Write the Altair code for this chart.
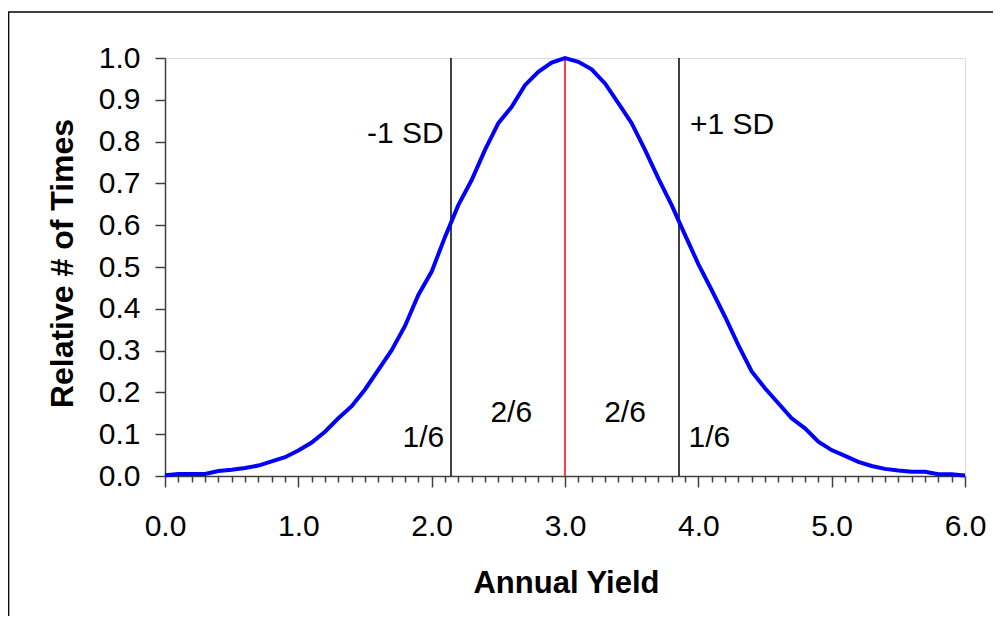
import altair as alt
import pandas as pd

# ---- data ----
yield_x = [round(i / 10, 1) for i in range(61)]
rel_times = [
    0.002, 0.005, 0.005, 0.005, 0.012, 0.015, 0.019, 0.025, 0.035, 0.045,
    0.061, 0.080, 0.106, 0.138, 0.167, 0.207, 0.254, 0.301, 0.359, 0.433,
    0.489, 0.572, 0.648, 0.708, 0.780, 0.844, 0.883, 0.935, 0.967, 0.989,
    1.000, 0.991, 0.973, 0.939, 0.892, 0.844, 0.780, 0.712, 0.648, 0.577,
    0.507, 0.445, 0.381, 0.313, 0.250, 0.210, 0.174, 0.138, 0.114, 0.082,
    0.062, 0.048, 0.034, 0.024, 0.017, 0.013, 0.010, 0.010, 0.004, 0.004,
    0.001,
]
sd_x = [2.145, 3.855]
mean_x = [3.0]

ann_text = ["-1 SD", "1/6", "2/6", "2/6", "+1 SD", "1/6"]
ann_x = [2.09, 2.094, 2.597, 3.45, 3.9375, 3.927]
ann_y = [0.797, 0.069, 0.130, 0.130, 0.818, 0.069]
ann_align = ["right", "right", "center", "center", "left", "left"]

x_ticks = [round(i / 10, 1) for i in range(61)]
y_ticks = [round(i / 10, 1) for i in range(11)]

curve_df = pd.DataFrame({"x": yield_x, "y": rel_times})
sd_df = pd.DataFrame({"x": sd_x})
mean_df = pd.DataFrame({"x": mean_x})
ann_df = pd.DataFrame({"text": ann_text, "x": ann_x, "y": ann_y, "align": ann_align})

FONT = "Liberation Sans"
W, H = 800, 418

major_test = "abs(datum.value - round(datum.value)) < 0.001"

x_scale = alt.Scale(domain=[0, 6], nice=False, zero=False)
y_scale = alt.Scale(domain=[0, 1], nice=False)

x_axis = alt.Axis(
    values=x_ticks,
    labelExpr=f"{major_test} ? format(datum.value, '.1f') : ''",
    labelOverlap=False,
    labelFlush=False,
    labelBound=False,
    labelFontSize=30,
    labelFont=FONT,
    labelColor="black",
    labelBaseline="alphabetic",
    labelPadding=48,
    tickSize={"condition": {"test": major_test, "value": 11}, "value": 6},
    tickColor="#404040",
    tickWidth=1.5,
    domainColor="#404040",
    domainWidth=1.5,
    grid=False,
    title="Annual Yield",
    titleFont=FONT,
    titleFontSize=31,
    titleFontWeight="bold",
    titleColor="black",
    titleX=401,
    titleY=116,
    titleAlign="center",
    titleBaseline="alphabetic",
)

y_axis = alt.Axis(
    values=y_ticks,
    format=".1f",
    labelOverlap=False,
    labelFontSize=30,
    labelFont=FONT,
    labelColor="black",
    labelPadding=15,
    tickSize=10,
    tickColor="#404040",
    tickWidth=1.5,
    domainColor="#404040",
    domainWidth=1.5,
    grid=False,
    title="Relative # of Times",
    titleFont=FONT,
    titleFontSize=32,
    titleFontWeight="bold",
    titleColor="black",
    titleAngle=270,
    titleX=-103,
    titleY=205,
    titleAlign="center",
    titleBaseline="middle",
)

X = alt.X("x:Q", scale=x_scale, axis=x_axis)
Y = alt.Y("y:Q", scale=y_scale, axis=y_axis)

border = alt.Chart(pd.DataFrame({"k": [0]})).mark_rect(
    fillOpacity=0, stroke="black", strokeWidth=1.3
).encode(
    x=alt.value(-156.3), x2=alt.value(2000),
    y=alt.value(-46), y2=alt.value(2000),
)

sd_rules = alt.Chart(sd_df).mark_rule(color="black", strokeWidth=1.5).encode(x=X)
mean_rule = alt.Chart(mean_df).mark_rule(color="#FF0000", strokeWidth=1.5).encode(x=X)

curve = alt.Chart(curve_df).mark_line(color="#0000FF", strokeWidth=4).encode(x=X, y=Y)

def ann_layer(al):
    return alt.Chart(ann_df).transform_filter(
        alt.datum.align == al
    ).mark_text(
        align=al, baseline="alphabetic", fontSize=30, font=FONT, color="black"
    ).encode(x=X, y=Y, text="text:N")

chart = alt.layer(
    border, sd_rules, mean_rule, curve,
    ann_layer("right"), ann_layer("center"), ann_layer("left"),
).properties(
    width=W, height=H,
    autosize=alt.AutoSizeParams(type="none"),
    padding={"left": 157, "top": 50, "right": 28, "bottom": 140},
    background="white",
).configure_view(
    stroke="#808080", strokeWidth=2
).configure(
    font=FONT
)

chart.save("out.html", embed_options={"renderer": "svg", "actions": False})
